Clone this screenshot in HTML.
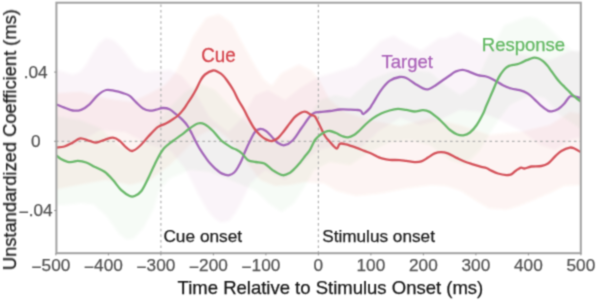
<!DOCTYPE html>
<html><head><meta charset="utf-8"><style>
html,body{margin:0;padding:0;background:#fff;width:597px;height:300px;overflow:hidden}
svg{display:block;font-family:"Liberation Sans",sans-serif;}
</style></head><body>
<svg width="597" height="300" viewBox="0 0 597 300">
<defs><clipPath id="c"><rect x="56.4" y="2.7" width="524.4" height="250.5"/></clipPath>
<filter id="bl" x="-10%" y="-10%" width="120%" height="120%"><feGaussianBlur stdDeviation="1.3"/></filter>
<filter id="gb" x="0" y="0" width="597" height="300" filterUnits="userSpaceOnUse" color-interpolation-filters="sRGB"><feConvolveMatrix order="3" kernelMatrix="0.0400 0.1200 0.0400 0.1200 0.3600 0.1200 0.0400 0.1200 0.0400" edgeMode="duplicate"/></filter></defs>
<g filter="url(#gb)"><rect width="597" height="300" fill="#fff"/>
<g clip-path="url(#c)" filter="url(#bl)">
<path d="M50.0,68.0 L56.0,69.7 L66.0,72.5 L72.7,74.7 L80.0,72.0 L86.0,65.0 L92.0,54.0 L99.0,43.5 L106.0,38.0 L113.0,40.0 L120.0,46.0 L128.0,56.0 L136.0,67.0 L145.0,72.0 L156.0,71.0 L170.0,70.0 L182.0,76.0 L195.0,92.0 L210.0,118.0 L228.0,132.0 L242.0,118.0 L255.0,95.0 L268.0,90.0 L285.0,100.0 L300.0,88.0 L318.0,77.0 L331.6,73.3 L356.0,65.8 L368.6,53.3 L381.0,40.7 L393.7,35.7 L406.3,43.2 L421.3,50.7 L439.0,38.2 L446.0,38.2 L458.6,31.9 L471.2,38.2 L483.8,45.7 L496.0,46.0 L510.0,52.0 L530.0,56.0 L550.0,60.0 L571.0,50.7 L590.0,52.0 L590.0,135.0 L570.0,140.0 L555.0,150.0 L540.0,145.0 L520.0,130.0 L500.0,120.0 L480.0,112.0 L460.0,110.0 L440.0,120.0 L420.0,125.0 L400.0,118.0 L380.0,130.0 L360.0,148.0 L340.0,145.0 L318.0,150.0 L300.0,165.0 L285.0,180.0 L265.0,170.0 L250.0,184.0 L243.0,199.0 L236.0,212.0 L229.0,221.0 L221.0,222.5 L214.0,218.0 L206.0,208.0 L197.0,192.0 L186.0,170.0 L170.0,150.0 L150.0,145.0 L125.0,132.0 L100.0,130.0 L75.0,145.0 L50.0,140.0Z" fill="#b060a8" fill-opacity="0.068"/>
<path d="M50.0,93.5 L81.0,91.8 L106.0,98.5 L131.4,101.9 L149.8,93.5 L165.0,85.0 L176.0,72.0 L185.0,55.0 L193.7,35.7 L206.3,18.0 L218.8,14.3 L231.4,23.0 L243.7,45.7 L256.3,68.3 L264.0,80.0 L272.0,86.0 L281.4,73.3 L299.0,64.6 L311.5,70.8 L319.0,80.0 L330.0,100.0 L345.0,112.0 L370.0,120.0 L400.0,126.0 L430.0,118.0 L460.0,125.0 L490.0,135.0 L520.0,132.0 L550.0,125.0 L570.0,112.0 L590.0,115.0 L590.0,184.4 L564.2,185.7 L549.0,193.2 L531.5,200.7 L519.0,205.8 L506.4,209.5 L488.8,208.3 L476.2,200.7 L461.0,190.7 L446.0,185.7 L431.0,185.0 L406.3,188.2 L381.0,193.2 L356.0,195.7 L336.7,190.7 L324.0,183.0 L305.0,182.0 L290.0,185.0 L275.0,186.0 L260.0,180.0 L245.0,160.0 L230.0,140.0 L215.0,128.0 L200.0,135.0 L185.0,150.0 L170.0,165.0 L150.0,180.0 L130.0,185.0 L106.0,180.0 L81.0,184.4 L50.0,190.7Z" fill="#e05a40" fill-opacity="0.065"/>
<path d="M50.0,115.0 L80.0,120.0 L100.0,128.0 L120.0,146.0 L135.0,153.0 L150.0,135.0 L165.0,112.0 L185.0,92.0 L200.0,84.0 L215.0,90.0 L235.0,112.0 L255.0,130.0 L275.0,138.0 L290.0,140.0 L305.0,122.0 L320.0,100.0 L335.0,95.0 L350.0,98.0 L370.0,80.0 L390.0,72.0 L410.0,70.0 L430.0,72.0 L445.0,85.0 L460.0,95.0 L475.0,85.0 L486.0,60.0 L496.3,40.7 L503.9,25.6 L513.9,21.8 L526.5,16.8 L536.5,18.0 L546.6,25.6 L561.7,40.7 L571.7,50.7 L590.0,53.3 L590.0,135.0 L560.0,115.0 L545.0,98.0 L530.0,95.0 L510.0,105.0 L495.0,125.0 L480.0,150.0 L465.0,165.0 L450.0,160.0 L430.0,145.0 L410.0,140.0 L390.0,142.0 L370.0,152.0 L350.0,165.0 L330.0,162.0 L314.0,170.0 L306.5,183.2 L294.0,203.3 L281.4,212.0 L268.8,203.3 L256.0,190.7 L230.0,180.0 L210.0,172.0 L190.0,170.0 L170.0,178.0 L159.0,190.6 L154.0,208.0 L144.0,227.0 L133.9,238.3 L126.4,239.6 L118.8,233.3 L106.3,215.7 L93.7,204.4 L81.0,203.0 L68.6,204.4 L50.0,205.6Z" fill="#68b468" fill-opacity="0.06"/>
</g>
<line x1="56.4" y1="141.3" x2="580.8" y2="141.3" stroke="#b0b0b0" stroke-width="1.2" stroke-dasharray="2.6,3.03" stroke-dashoffset="0.45"/>
<line x1="160.9" y1="2.7" x2="160.9" y2="253.2" stroke="#b0b0b0" stroke-width="1.2" stroke-dasharray="2.6,3.007" stroke-dashoffset="3.9"/>
<line x1="318.4" y1="2.7" x2="318.4" y2="253.2" stroke="#b0b0b0" stroke-width="1.2" stroke-dasharray="2.6,3.007" stroke-dashoffset="3.9"/>
<g clip-path="url(#c)" fill="none" stroke-width="2.3" stroke-linejoin="round" stroke-linecap="round">
<path d="M56.5,104.5 C57.8,105.0 61.7,106.6 64.4,107.6 C67.1,108.6 70.0,110.1 72.8,110.5 C75.6,110.9 78.3,110.8 81.1,109.8 C83.9,108.8 86.7,106.8 89.5,104.3 C92.3,101.8 95.1,97.5 97.9,95.1 C100.7,92.7 103.5,90.7 106.3,90.0 C109.1,89.3 111.8,90.4 114.6,90.9 C117.4,91.4 120.5,92.3 123.0,93.1 C125.5,93.9 127.5,94.3 129.7,95.9 C131.9,97.5 134.2,100.5 136.4,102.6 C138.6,104.7 140.9,107.2 143.1,108.5 C145.3,109.8 147.7,110.5 149.8,110.7 C152.0,110.9 153.8,110.2 156.0,109.7 C158.2,109.2 160.5,108.1 162.7,108.0 C164.9,107.9 166.9,108.0 169.4,109.2 C171.9,110.4 175.2,113.5 177.5,115.4 C179.8,117.3 181.6,118.8 183.3,120.6 C185.1,122.4 186.6,124.3 188.0,126.5 C189.4,128.7 190.8,131.8 192.0,134.0 C193.2,136.2 193.7,137.5 195.0,140.0 C196.3,142.5 198.3,146.4 200.0,149.2 C201.7,152.0 203.3,154.3 205.0,156.7 C206.7,159.0 208.3,161.4 210.0,163.3 C211.7,165.2 213.3,166.8 215.0,168.3 C216.7,169.8 218.3,171.4 220.0,172.5 C221.7,173.6 223.5,174.2 225.0,174.7 C226.5,175.1 227.7,175.6 229.2,175.2 C230.7,174.8 232.7,173.9 234.2,172.5 C235.7,171.1 237.1,168.8 238.3,166.7 C239.6,164.6 240.6,162.5 241.7,160.0 C242.8,157.5 243.6,154.9 245.0,151.7 C246.4,148.5 248.3,144.3 250.0,141.0 C251.7,137.7 253.3,134.0 255.0,132.0 C256.7,130.0 258.2,129.2 260.0,129.0 C261.8,128.8 264.0,129.7 266.0,131.0 C268.0,132.3 270.0,135.0 272.0,137.0 C274.0,139.0 275.9,141.6 278.0,143.0 C280.1,144.4 282.0,145.7 284.5,145.2 C287.0,144.7 290.1,143.0 292.9,140.2 C295.7,137.4 298.4,132.4 301.2,128.5 C304.0,124.6 307.5,119.4 309.6,116.8 C311.7,114.2 312.3,113.8 314.0,113.0 C315.7,112.2 317.3,112.3 320.0,112.0 C322.7,111.7 326.7,111.4 330.0,111.0 C333.3,110.6 336.7,109.7 340.0,109.5 C343.3,109.3 347.0,109.5 350.0,109.6 C353.0,109.7 356.2,109.8 358.0,110.0 C359.8,110.2 360.2,110.3 361.0,111.0 C361.8,111.7 362.2,113.8 363.0,114.0 C363.8,114.2 364.8,113.0 366.0,112.0 C367.2,111.0 368.9,109.4 370.0,108.0 C371.1,106.6 370.9,106.5 372.8,103.5 C374.7,100.5 378.3,93.9 381.1,90.1 C383.9,86.3 386.4,83.1 389.5,80.9 C392.6,78.7 396.8,77.5 399.6,77.0 C402.4,76.5 403.8,76.9 406.3,78.0 C408.8,79.1 411.8,81.7 414.6,83.4 C417.4,85.1 420.8,87.4 423.0,88.4 C425.2,89.4 426.1,89.7 428.0,89.3 C429.9,88.9 432.2,87.5 434.7,85.9 C437.2,84.4 440.3,82.0 443.1,80.0 C445.9,78.0 449.4,75.7 451.5,74.2 C453.6,72.8 454.1,72.0 456.0,71.3 C457.9,70.6 460.5,69.7 462.7,69.8 C464.9,69.9 466.9,70.9 469.4,71.8 C471.9,72.7 475.0,74.3 477.8,75.1 C480.6,75.9 483.4,75.7 486.2,76.5 C489.0,77.3 491.7,78.8 494.5,80.2 C497.3,81.7 500.1,83.8 502.9,85.2 C505.7,86.6 508.5,87.7 511.3,88.5 C514.1,89.3 517.0,89.4 519.7,90.2 C522.4,91.0 525.2,92.0 527.7,93.5 C530.2,95.0 532.3,97.3 534.5,99.3 C536.7,101.3 538.8,103.8 541.0,105.7 C543.2,107.6 545.9,109.6 547.7,110.6 C549.5,111.5 549.9,111.7 551.7,111.4 C553.5,111.1 556.3,110.2 558.3,109.0 C560.3,107.8 562.1,106.0 563.7,104.3 C565.3,102.6 566.6,100.3 567.7,99.0 C568.8,97.7 569.2,96.8 570.3,96.3 C571.4,95.8 572.6,96.0 574.3,96.3 C576.0,96.6 579.5,97.7 580.5,98.0" stroke="#a367b9"/>
<path d="M56.5,147.6 C57.8,147.4 61.7,147.3 64.4,146.5 C67.1,145.7 70.2,143.9 72.8,142.6 C75.4,141.2 77.5,138.7 80.3,138.4 C83.1,138.1 86.8,140.2 89.5,140.9 C92.2,141.6 93.7,142.8 96.2,142.6 C98.7,142.4 101.8,140.6 104.6,139.8 C107.4,139.0 110.5,137.4 113.0,137.6 C115.5,137.8 117.5,139.2 119.7,140.9 C121.9,142.6 124.3,145.9 126.4,147.6 C128.5,149.3 130.0,151.3 132.2,151.0 C134.4,150.7 137.2,148.4 139.8,146.0 C142.5,143.6 145.4,139.7 148.1,136.8 C150.8,133.9 154.0,130.3 156.0,128.5 C158.0,126.7 158.4,126.7 160.0,125.9 C161.6,125.1 163.9,124.6 165.8,123.6 C167.8,122.6 169.8,121.3 171.7,120.0 C173.6,118.7 175.6,117.7 177.5,116.0 C179.4,114.3 181.6,111.8 183.3,109.6 C185.1,107.4 186.4,104.9 188.0,102.6 C189.6,100.3 191.3,97.7 192.6,95.6 C193.9,93.5 194.4,92.6 195.8,90.0 C197.2,87.4 199.3,82.6 200.8,80.0 C202.3,77.4 203.0,76.1 205.0,74.5 C207.0,72.9 210.8,70.9 213.0,70.5 C215.2,70.1 216.4,71.2 218.0,72.0 C219.6,72.8 221.1,73.7 222.5,75.0 C223.9,76.3 224.9,77.5 226.7,80.0 C228.5,82.5 231.4,86.7 233.3,90.0 C235.2,93.3 236.5,96.7 238.3,100.0 C240.1,103.3 242.6,107.1 244.2,110.0 C245.8,112.9 246.4,114.5 248.0,117.5 C249.6,120.5 252.0,125.1 254.0,128.0 C256.0,130.9 258.0,133.1 260.0,135.0 C262.0,136.9 264.0,138.4 266.0,139.4 C268.0,140.4 270.0,141.2 272.0,141.0 C274.0,140.8 276.0,139.7 278.0,138.0 C280.0,136.3 282.0,133.5 284.0,131.0 C286.0,128.5 288.0,125.5 290.0,123.0 C292.0,120.5 293.6,117.9 296.0,116.0 C298.4,114.1 302.1,111.9 304.6,111.7 C307.2,111.5 309.6,114.3 311.3,115.1 C313.0,115.9 313.6,114.7 315.0,116.5 C316.4,118.3 318.3,122.8 320.0,126.0 C321.7,129.2 323.3,133.3 325.0,136.0 C326.7,138.7 328.5,140.2 330.0,142.0 C331.5,143.8 332.8,145.4 334.0,146.5 C335.2,147.6 336.1,148.9 337.0,148.5 C337.9,148.1 338.6,145.1 339.3,144.3 C340.1,143.5 340.6,143.5 341.5,143.5 C342.4,143.5 343.6,143.8 345.0,144.2 C346.4,144.5 348.2,145.0 350.0,145.6 C351.8,146.2 353.6,146.7 356.0,147.6 C358.4,148.5 361.6,149.8 364.4,150.9 C367.2,152.0 370.6,153.2 372.8,154.2 C375.0,155.2 376.4,156.2 377.8,156.8 C379.2,157.5 379.2,157.6 381.1,158.1 C383.1,158.6 386.4,159.5 389.5,159.8 C392.6,160.1 396.8,159.9 399.6,160.1 C402.4,160.3 403.8,160.6 406.3,160.9 C408.8,161.2 412.1,162.0 414.6,162.1 C417.1,162.2 419.1,162.2 421.3,161.4 C423.5,160.7 425.8,158.9 428.0,157.6 C430.2,156.3 432.5,154.3 434.7,153.4 C436.9,152.5 438.8,152.2 441.0,152.2 C443.2,152.2 445.3,152.5 447.8,153.4 C450.3,154.3 453.3,156.2 456.1,157.6 C458.9,158.9 461.7,160.4 464.5,161.5 C467.3,162.6 470.1,163.4 472.9,164.3 C475.7,165.2 479.1,166.2 481.3,166.8 C483.5,167.4 484.6,167.4 486.3,168.0 C488.0,168.6 489.4,169.7 491.3,170.6 C493.2,171.5 495.5,172.7 498.0,173.5 C500.5,174.3 504.2,175.0 506.4,175.2 C508.6,175.3 509.8,175.0 511.2,174.4 C512.6,173.8 513.7,172.3 514.8,171.5 C515.9,170.7 516.9,169.9 518.0,169.3 C519.1,168.7 520.1,167.8 521.2,167.7 C522.3,167.6 522.9,168.7 524.6,168.5 C526.3,168.3 528.5,166.9 531.3,166.5 C534.1,166.1 538.5,166.5 541.3,166.0 C544.1,165.5 545.8,165.0 548.0,163.5 C550.2,162.0 552.5,158.9 554.7,156.8 C556.9,154.7 558.9,152.4 561.4,150.9 C563.9,149.4 567.6,148.0 569.8,147.6 C572.0,147.2 573.0,148.0 574.8,148.7 C576.6,149.4 579.5,151.4 580.5,152.0" stroke="#d4525a"/>
<path d="M56.5,155.5 C57.2,156.1 59.1,157.9 61.0,159.0 C62.9,160.1 65.7,161.3 67.7,161.8 C69.7,162.3 71.1,162.1 72.8,161.9 C74.5,161.8 75.6,160.8 77.8,160.9 C80.0,161.0 83.4,161.5 86.2,162.5 C89.0,163.5 91.4,165.1 94.5,166.7 C97.6,168.2 101.5,169.6 104.6,171.8 C107.7,174.0 110.2,177.0 113.0,180.1 C115.8,183.2 118.5,187.5 121.3,190.2 C124.1,192.8 127.5,195.0 129.7,196.0 C131.9,197.0 132.8,196.8 134.7,196.0 C136.6,195.2 139.2,193.9 141.4,191.0 C143.6,188.1 145.9,183.0 148.1,178.5 C150.3,174.0 152.4,168.9 154.8,164.2 C157.2,159.4 159.7,153.9 162.7,150.0 C165.7,146.1 169.7,143.5 172.8,141.0 C175.9,138.5 178.3,137.3 181.1,135.2 C183.9,133.1 186.7,130.4 189.5,128.5 C192.3,126.5 195.4,124.2 197.9,123.5 C200.4,122.8 202.1,123.0 204.6,124.3 C207.1,125.5 210.2,128.3 213.0,131.0 C215.8,133.7 218.2,137.8 221.3,140.5 C224.4,143.2 229.0,146.0 231.4,147.5 C233.8,149.0 234.2,148.5 236.0,149.5 C237.8,150.5 240.0,151.7 242.0,153.5 C244.0,155.3 245.8,158.9 248.1,160.3 C250.4,161.7 253.3,161.5 256.0,162.0 C258.7,162.5 261.6,162.1 264.4,163.5 C267.2,164.9 269.7,168.2 272.8,170.2 C275.9,172.1 279.9,174.8 282.8,175.2 C285.7,175.6 288.0,173.8 290.0,172.7 C292.0,171.5 293.3,170.0 295.0,168.3 C296.7,166.6 298.3,164.7 300.0,162.7 C301.7,160.7 303.3,158.5 305.0,156.3 C306.7,154.2 308.3,152.5 310.0,149.8 C311.7,147.1 313.3,142.5 315.0,140.0 C316.7,137.5 318.3,136.3 320.0,135.0 C321.7,133.7 323.3,132.7 325.0,132.0 C326.7,131.3 328.2,130.8 330.0,131.0 C331.8,131.2 334.0,132.2 336.0,133.0 C338.0,133.8 340.0,135.3 342.0,136.0 C344.0,136.7 346.0,137.6 348.0,137.4 C350.0,137.2 352.0,136.2 354.0,135.0 C356.0,133.8 358.0,131.8 360.0,130.0 C362.0,128.2 363.9,125.9 366.0,124.0 C368.1,122.1 370.3,120.2 372.8,118.4 C375.3,116.7 378.3,114.8 381.1,113.5 C383.9,112.2 386.7,111.3 389.5,110.5 C392.3,109.7 395.1,109.0 397.9,108.9 C400.7,108.8 403.5,109.5 406.3,109.9 C409.1,110.3 411.8,111.5 414.6,111.5 C417.4,111.5 420.5,110.1 423.0,110.2 C425.5,110.3 427.5,110.8 429.7,111.9 C431.9,113.0 434.7,115.6 436.4,116.9 C438.1,118.2 438.6,118.7 440.0,120.0 C441.4,121.3 443.3,123.3 445.0,125.0 C446.7,126.7 448.1,128.5 450.0,130.0 C451.9,131.5 454.5,133.3 456.7,134.2 C458.9,135.1 461.1,135.6 463.3,135.3 C465.5,135.0 467.8,134.2 470.0,132.5 C472.2,130.8 474.5,128.2 476.7,125.0 C478.9,121.8 481.7,116.5 483.3,113.3 C484.9,110.1 485.0,108.8 486.2,106.0 C487.4,103.2 489.1,99.4 490.4,96.4 C491.7,93.4 492.9,90.7 494.0,88.0 C495.1,85.3 496.1,82.8 497.2,80.5 C498.3,78.2 499.2,76.4 500.5,74.5 C501.8,72.6 503.3,70.4 504.7,69.0 C506.1,67.6 507.7,66.6 509.1,65.9 C510.5,65.2 511.9,65.2 513.3,64.9 C514.7,64.6 516.1,64.6 517.5,64.2 C518.9,63.8 520.3,63.1 521.7,62.5 C523.1,61.9 524.5,61.0 525.9,60.4 C527.3,59.8 528.7,59.3 530.1,58.8 C531.5,58.3 532.9,57.6 534.3,57.6 C535.7,57.6 537.2,57.9 538.7,58.5 C540.2,59.1 541.6,60.0 543.0,61.1 C544.4,62.2 545.8,63.7 547.3,65.4 C548.8,67.1 550.2,69.5 551.7,71.5 C553.2,73.5 554.6,75.6 556.0,77.5 C557.4,79.4 558.8,81.1 560.3,82.7 C561.8,84.3 563.2,85.6 564.7,87.1 C566.2,88.5 567.6,90.0 569.0,91.4 C570.4,92.8 571.8,94.4 573.3,95.7 C574.8,97.0 576.2,98.1 577.7,99.2 C579.2,100.3 581.3,102.0 582.0,102.5" stroke="#6ab86a"/>
</g>
<rect x="56.4" y="2.7" width="524.4" height="250.5" fill="none" stroke="#a2a2a2" stroke-width="2"/>
<line x1="55.9" y1="253.2" x2="55.9" y2="255.4" stroke="#8c8c8c" stroke-width="1"/>
<line x1="108.4" y1="253.2" x2="108.4" y2="255.4" stroke="#8c8c8c" stroke-width="1"/>
<line x1="160.9" y1="253.2" x2="160.9" y2="255.4" stroke="#8c8c8c" stroke-width="1"/>
<line x1="213.4" y1="253.2" x2="213.4" y2="255.4" stroke="#8c8c8c" stroke-width="1"/>
<line x1="265.9" y1="253.2" x2="265.9" y2="255.4" stroke="#8c8c8c" stroke-width="1"/>
<line x1="318.4" y1="253.2" x2="318.4" y2="255.4" stroke="#8c8c8c" stroke-width="1"/>
<line x1="370.9" y1="253.2" x2="370.9" y2="255.4" stroke="#8c8c8c" stroke-width="1"/>
<line x1="423.4" y1="253.2" x2="423.4" y2="255.4" stroke="#8c8c8c" stroke-width="1"/>
<line x1="475.9" y1="253.2" x2="475.9" y2="255.4" stroke="#8c8c8c" stroke-width="1"/>
<line x1="528.4" y1="253.2" x2="528.4" y2="255.4" stroke="#8c8c8c" stroke-width="1"/>
<line x1="580.9" y1="253.2" x2="580.9" y2="255.4" stroke="#8c8c8c" stroke-width="1"/>
<line x1="54.2" y1="72.1" x2="56.4" y2="72.1" stroke="#8c8c8c" stroke-width="1"/>
<line x1="54.2" y1="141.3" x2="56.4" y2="141.3" stroke="#8c8c8c" stroke-width="1"/>
<line x1="54.2" y1="210.5" x2="56.4" y2="210.5" stroke="#8c8c8c" stroke-width="1"/>
<text x="50.9" y="270.5" font-size="17.2" fill="#525252" stroke="#525252" stroke-width="0.25" text-anchor="middle"><tspan dy="2.3">−</tspan><tspan dy="-2.3">500</tspan></text>
<text x="103.4" y="270.5" font-size="17.2" fill="#525252" stroke="#525252" stroke-width="0.25" text-anchor="middle"><tspan dy="2.3">−</tspan><tspan dy="-2.3">400</tspan></text>
<text x="155.9" y="270.5" font-size="17.2" fill="#525252" stroke="#525252" stroke-width="0.25" text-anchor="middle"><tspan dy="2.3">−</tspan><tspan dy="-2.3">300</tspan></text>
<text x="208.4" y="270.5" font-size="17.2" fill="#525252" stroke="#525252" stroke-width="0.25" text-anchor="middle"><tspan dy="2.3">−</tspan><tspan dy="-2.3">200</tspan></text>
<text x="260.9" y="270.5" font-size="17.2" fill="#525252" stroke="#525252" stroke-width="0.25" text-anchor="middle"><tspan dy="2.3">−</tspan><tspan dy="-2.3">100</tspan></text>
<text x="318.4" y="270.5" font-size="17.2" fill="#525252" stroke="#525252" stroke-width="0.25" text-anchor="middle">0</text>
<text x="370.9" y="270.5" font-size="17.2" fill="#525252" stroke="#525252" stroke-width="0.25" text-anchor="middle">100</text>
<text x="423.4" y="270.5" font-size="17.2" fill="#525252" stroke="#525252" stroke-width="0.25" text-anchor="middle">200</text>
<text x="475.9" y="270.5" font-size="17.2" fill="#525252" stroke="#525252" stroke-width="0.25" text-anchor="middle">300</text>
<text x="528.4" y="270.5" font-size="17.2" fill="#525252" stroke="#525252" stroke-width="0.25" text-anchor="middle">400</text>
<text x="580.9" y="270.5" font-size="17.2" fill="#525252" stroke="#525252" stroke-width="0.25" text-anchor="middle">500</text>
<text x="35.7" y="78.0" font-size="17.2" fill="#525252" stroke="#525252" stroke-width="0.25" text-anchor="middle">.04</text>
<text x="35.7" y="147.2" font-size="17.2" fill="#525252" stroke="#525252" stroke-width="0.25" text-anchor="middle">0</text>
<text x="35.7" y="216.4" font-size="17.2" fill="#525252" stroke="#525252" stroke-width="0.25" text-anchor="middle"><tspan dy="1.3">−</tspan><tspan dy="-1.3">.04</tspan></text>
<text x="330.4" y="294" font-size="18.5" fill="#161616" stroke="#161616" stroke-width="0.25" text-anchor="middle">Time Relative to Stimulus Onset (ms)</text>
<text transform="translate(16,139.6) rotate(-90)" font-size="18.3" fill="#161616" stroke="#161616" stroke-width="0.25" text-anchor="middle">Unstandardized Coefficient (ms)</text>
<text x="163.4" y="241.7" font-size="17.3" fill="#1a1a1a" stroke="#1a1a1a" stroke-width="0.25">Cue onset</text>
<text x="322.2" y="241.7" font-size="17.2" fill="#1a1a1a" stroke="#1a1a1a" stroke-width="0.25">Stimulus onset</text>
<text transform="translate(201.3,61.7) scale(1,1.06)" font-size="18.8" fill="#d4434b" stroke="#d4434b" stroke-width="0.25">Cue</text>
<text x="381.5" y="67.8" font-size="18.5" fill="#aa62b8" stroke="#aa62b8" stroke-width="0.25">Target</text>
<text x="481.8" y="50.9" font-size="18.5" fill="#62b862" stroke="#62b862" stroke-width="0.25">Response</text>
</g></svg>
</body></html>
